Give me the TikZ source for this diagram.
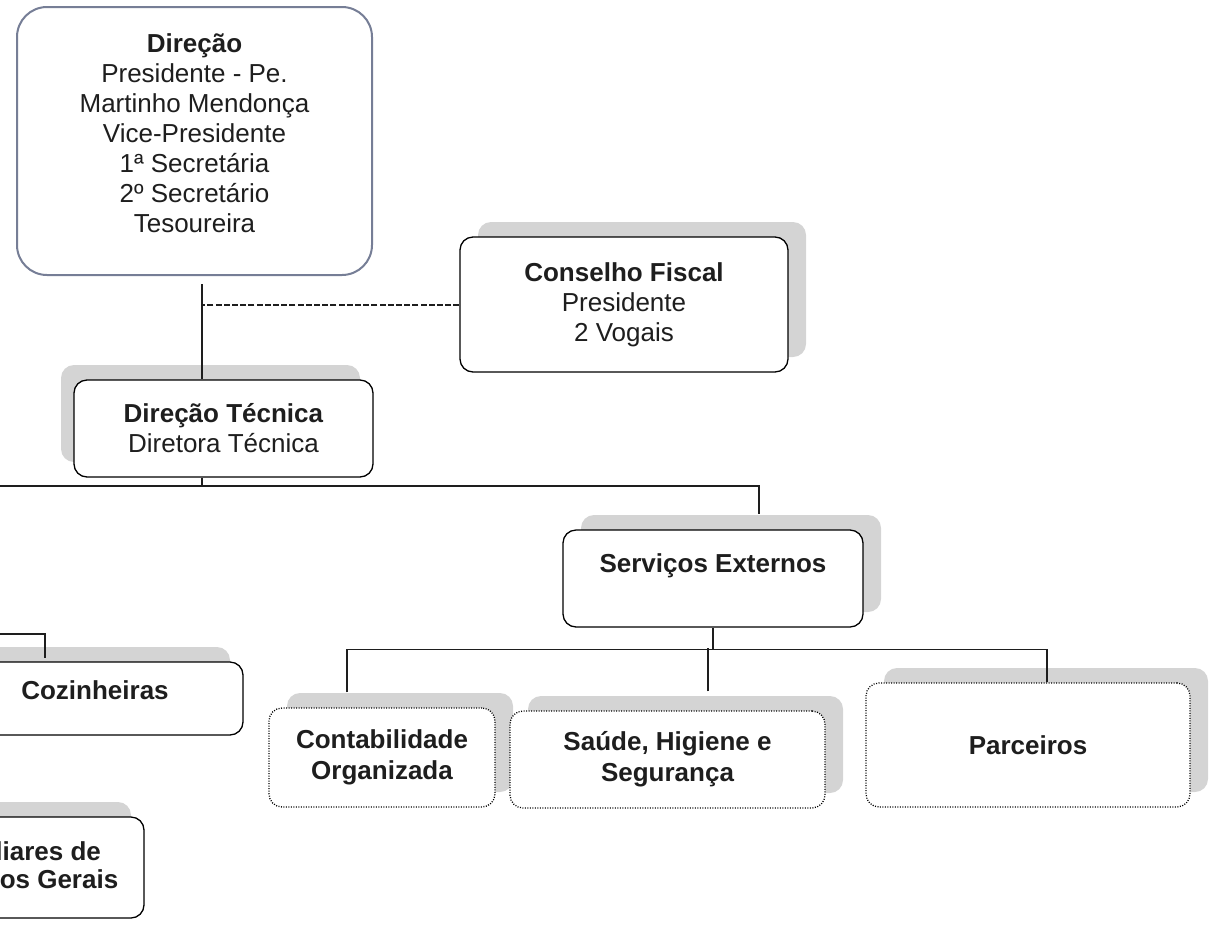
\documentclass[tikz,border=0pt]{standalone}
\usepackage{fontspec}
\setmainfont{Liberation Sans}
\usetikzlibrary{shadows}
\definecolor{sombra}{RGB}{212,212,212}
\definecolor{moldura}{RGB}{118,126,150}
\definecolor{tinta}{RGB}{30,30,30}
\tikzstyle{cargo} = [rectangle, rounded corners=13pt, draw=black, line width=1.3pt, fill=white, text=tinta, align=center, inner sep=0pt, font=\fontsize{26}{30}\selectfont]
\tikzstyle{externo} = [cargo, dash pattern=on 1pt off 1.5pt, font=\fontsize{26}{31}\selectfont\bfseries]
\tikzstyle{sombradir} = [drop shadow={shadow xshift=18pt, shadow yshift=15pt, fill=sombra, opacity=1}]
\tikzstyle{sombraesq} = [drop shadow={shadow xshift=-13pt, shadow yshift=15pt, fill=sombra, opacity=1}]
\tikzstyle{ligacao} = [line width=1.3pt, draw=tinta]
\tikzstyle{fiscal} = [line width=2pt, dash pattern=on 6pt off 2.2pt, draw=tinta]

\begin{document}
\begin{tikzpicture}[x=1pt, y=-1pt]
	\useasboundingbox (0,0) rectangle (1214,929);
	\clip (0,0) rectangle (1214,929);
	\node[cargo, draw=moldura, line width=2pt, rounded corners=30pt, minimum width=355pt, minimum height=268pt] (dir) at (194.5,141) {\textbf{Direção}\\Presidente - Pe.\\Martinho Mendonça\\Vice-Presidente\\1ª Secretária\\2º Secretário\\Tesoureira\\[-15pt]~};
	\node[cargo, sombradir, minimum width=328pt, minimum height=135pt] (cfiscal) at (624,304.5) {\textbf{Conselho Fiscal}\\Presidente\\2 Vogais};
	\node[cargo, sombraesq, minimum width=299pt, minimum height=97pt] (dtec) at (223.5,428.5) {\textbf{Direção Técnica}\\Diretora Técnica};
	\node[cargo, sombradir, minimum width=300pt, minimum height=97pt] (sext) at (713,578.5) {\textbf{Serviços Externos}\\~};
	\node[cargo, sombraesq, minimum width=296pt, minimum height=73pt] (cozinha) at (95,698.5) {\textbf{Cozinheiras}\\[-13pt]~};
	\node[cargo, sombraesq, minimum width=248pt, minimum height=101pt, font=\fontsize{26}{28}\selectfont\bfseries] (aux) at (20,867.5) {Auxiliares de\\Serviços Gerais};
	\node[externo, sombradir, minimum width=226pt, minimum height=99pt] (contab) at (382,757.5) {Contabilidade\\Organizada};
	\node[externo, sombradir, minimum width=315pt, minimum height=97pt] (saude) at (667.5,759.5) {Saúde, Higiene e\\Segurança};
	\node[externo, sombradir, minimum width=324pt, minimum height=124pt] (parc) at (1028,745) {Parceiros};

	\coordinate (esq) at (-10,486);
	\coordinate (esq2) at (-10,634);

	\draw [ligacao] ([xshift=7.5pt,yshift=-8pt]dir.south) coordinate (topo) -- ([xshift=-21.5pt]dtec.north);
	\draw [fiscal] (cfiscal.west) -- (cfiscal.west -| topo);
	\draw [ligacao] ([xshift=-21.5pt]dtec.south) -- ++(0,9);
	\draw [ligacao] (esq) -| ([xshift=46pt,yshift=15pt]sext.north);
	\draw [ligacao] (esq2) -| ([xshift=-50pt,yshift=3pt]cozinha.north);
	\draw [ligacao] (sext.south) -- ++(0,22);
	\draw [ligacao] ([xshift=-35pt,yshift=15pt]contab.north) -- ++(0,-43) -| ([xshift=19pt]parc.north);
	\draw [ligacao] ([xshift=40.5pt,yshift=19pt]saude.north) -- ++(0,-43);
\end{tikzpicture}
\end{document}
